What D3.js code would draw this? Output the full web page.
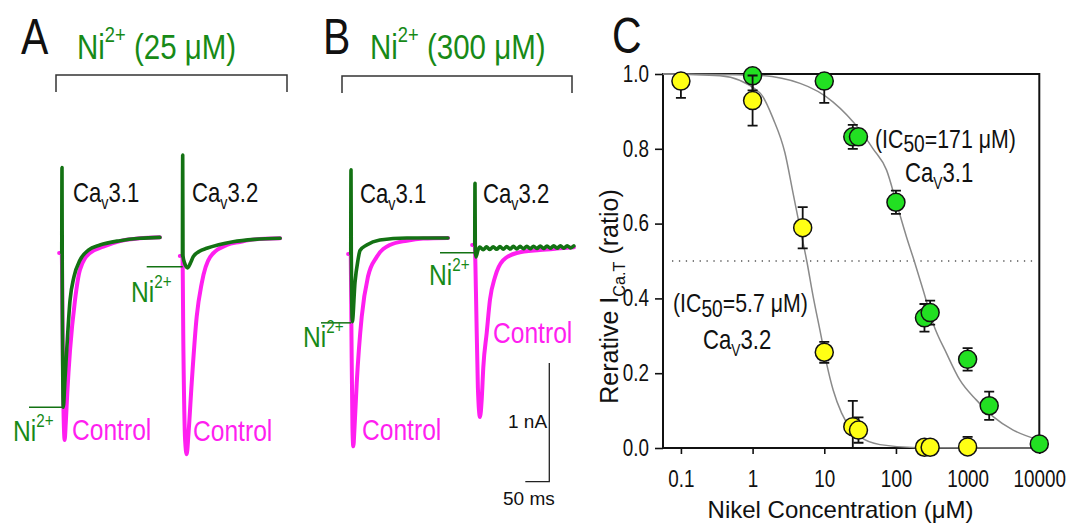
<!DOCTYPE html>
<html>
<head>
<meta charset="utf-8">
<script src="https://cdn.jsdelivr.net/npm/d3@7"></script>
<style>
  body { margin: 0; background: #fff; }
  svg { display: block; }
  .reg { font-family: "Liberation Sans", Arial, sans-serif; }
</style>
</head>
<body>
<svg id="fig" width="1069" height="524"></svg>
<script>
// DATA: current traces, [time (ms), current (nA)] from the step onset
const pinkA31 = [[-6,0],[-0.5,0],[1,-0.55],[3,-1.3],[5.5,-1.575],[8,-1.42],[11,-1.18],[16.7,-0.82],[27,-0.40],[37.5,-0.14],[58,0],[86,0.053],[121,0.1],[162,0.124],[204,0.132]];
const greenA31 = [[-0.5,0],[0,0.72],[0.6,-0.3],[2.7,-1.30],[6,-1.08],[9.8,-0.82],[16.7,-0.40],[25,-0.20],[37.5,-0.06],[55,0.025],[79,0.067],[121,0.104],[162,0.124],[204,0.132]];
const pinkA32 = [[-6,0],[-0.5,0],[1.5,-0.8],[5,-1.55],[8.3,-1.67],[12,-1.5],[18.75,-1.07],[29.2,-0.51],[39.6,-0.23],[57,-0.01],[92,0.093],[119,0.118],[150,0.14],[203,0.15]];
const greenA32 = [[-0.5,0],[0,0.85],[0.6,0],[4,-0.06],[10.4,-0.1],[16,-0.06],[22,-0.006],[35,0.04],[50,0.065],[75,0.095],[105,0.12],[150,0.14],[203,0.15]];
const pinkB31 = [[-6,0],[-0.5,0],[1,-0.7],[3,-1.45],[4.8,-1.62],[7.5,-1.45],[11.9,-1.09],[22.3,-0.53],[35.4,-0.19],[53.5,-0.025],[81,0.076],[116,0.112],[150,0.13],[202,0.135]];
const greenB31 = [[-0.5,0],[0,0.71],[0.6,0],[2.7,-0.57],[8.3,-0.24],[14.6,-0.05],[18.75,0.03],[32.7,0.076],[60,0.118],[116,0.135],[202,0.135]];
const pinkB32 = [[-6,0],[-0.5,0],[2,-0.4],[6,-1.2],[10.4,-1.45],[14,-1.3],[17.3,-1.03],[24.4,-0.74],[31.25,-0.46],[41.7,-0.27],[58.3,-0.13],[86.9,-0.067],[135,-0.042],[170,-0.03],[206,-0.02]];
const greenB32 = [[-0.5,0],[0,0.52],[0.6,-0.05],[2,-0.10],[6,-0.045],[10,-0.018],[17,-0.04],[24,-0.016],[31,-0.038],[38,-0.015],[45,-0.036],[52,-0.014],[59,-0.035],[66,-0.013],[73,-0.034],[80,-0.012],[87,-0.033],[94,-0.012],[101,-0.032],[108,-0.011],[115,-0.031],[122,-0.010],[129,-0.030],[136,-0.009],[143,-0.029],[150,-0.008],[157,-0.028],[164,-0.007],[171,-0.027],[178,-0.006],[185,-0.026],[192,-0.006],[199,-0.025],[206,-0.008]];
// peak current level under Ni2+ (nA), where the marker line sits
const niLevels = [-1.30, -0.09, -0.58, -0.065];
const scaleBar = { ms: 50, nA: 1 };

// DATA: dose-response (panel C)
const cav31Conc = [1, 10, 25, 30, 100, 250, 300, 1000, 2000, 10000];
const cav31Ratio = [0.995, 0.981, 0.832, 0.832, 0.657, 0.348, 0.362, 0.237, 0.113, 0.011];
const cav31Err = [0.039, 0.058, 0.032, 0.02, 0.031, 0.037, 0.032, 0.03, 0.038, 0];
const cav32Conc = [0.1, 1, 5, 10, 25, 30, 250, 300, 1000];
const cav32Ratio = [0.981, 0.929, 0.589, 0.256, 0.057, 0.048, 0.002, 0.002, 0.003];
const cav32Err = [0.045, 0.067, 0.055, 0.028, 0.069, 0.034, 0, 0, 0.027];
// fitted curves
const cav31Fit = [[0.056,1.0],[1,0.997],[4.6,0.975],[13.3,0.925],[31.4,0.85],[48,0.80],[74,0.743],[102,0.654],[140,0.565],[180,0.5],[240,0.422],[330,0.333],[508,0.253],[778,0.182],[1330,0.128],[2270,0.084],[4320,0.048],[10000,0.021]];
const cav32Fit = [[0.056,1.0],[0.35,0.995],[1.26,0.95],[1.94,0.88],[2.82,0.79],[3.68,0.68],[4.57,0.59],[5.7,0.5],[7.0,0.405],[8.7,0.315],[10.8,0.225],[13.3,0.155],[17.4,0.094],[31.4,0.031],[60,0.009],[200,0.001],[10000,0]];
const xTicks = [0.1, 1, 10, 100, 1000, 10000];
const yTicks = [0, 0.2, 0.4, 0.6, 0.8, 1.0];

// COLORS
const GREEN_TXT = "#178a17", GREEN_TR = "#137213", PINK = "#ff1ff0";
const FILL31 = "#22e022", FILL32 = "#ffff14";
const NARROW = 0.82;   // horizontal squeeze that mimics a condensed face

const svg = d3.select("#fig");

// helper: text with super/subscripts; narrow text is squeezed horizontally
function rich(x, y, parts, size, narrow, fill, anchor, parent, subShift) {
  const g = (parent || svg).append("g")
      .attr("transform", `translate(${x},${y})` + (narrow ? ` scale(${NARROW},1)` : ""));
  const t = g.append("text").attr("class", "reg")
      .attr("font-size", size).attr("fill", fill)
      .attr("text-anchor", anchor || "start");
  let shift = 0;
  parts.forEach(p => {
    const off = p.sup ? -0.48 * size : p.sub ? (subShift || 0.27) * size : 0;
    t.append("tspan").attr("dy", off - shift)
        .attr("font-size", (p.sup || p.sub) ? size * (p.scale || 0.62) : size)
        .text(p.t);
    shift = off;
  });
  return t;
}

/* ===================== PANELS A & B: traces ===================== */
const tScale = d3.scaleLinear().domain([0, 50]).range([0, 24]);       // ms -> px
const iScale = d3.scaleLinear().domain([0, 1]).range([0, -118.7]);    // nA -> px
const trace = d3.line().x(d => tScale(d[0])).y(d => iScale(d[1])).curve(d3.curveMonotoneX);

const traces = [
  { pink: pinkA31, green: greenA31, x0: 62, y0: 253, ni: niLevels[0], niFrom: -33 },
  { pink: pinkA32, green: greenA32, x0: 182.7, y0: 256, ni: niLevels[1], niFrom: -36 },
  { pink: pinkB31, green: greenB31, x0: 351, y0: 254, ni: niLevels[2], niFrom: -30 },
  { pink: pinkB32, green: greenB32, x0: 475, y0: 245, ni: niLevels[3], niFrom: -35 }
];

traces.forEach(tr => {
  const g = svg.append("g").attr("transform", `translate(${tr.x0},${tr.y0})`);
  g.append("path").datum(tr.pink).attr("d", trace)
      .attr("fill", "none").attr("stroke", PINK).attr("stroke-width", 4)
      .attr("stroke-linejoin", "round").attr("stroke-linecap", "round");
  g.append("path").datum(tr.green).attr("d", trace)
      .attr("fill", "none").attr("stroke", GREEN_TR).attr("stroke-width", 3.6)
      .attr("stroke-linejoin", "round").attr("stroke-linecap", "round");
  g.append("line").attr("x1", tr.niFrom).attr("x2", 0)
      .attr("y1", iScale(tr.ni)).attr("y2", iScale(tr.ni))
      .attr("stroke", GREEN_TR).attr("stroke-width", 1.5);
});

// scale bar
const sb = svg.append("g").attr("transform", "translate(549.3,481.7)");
sb.append("path")
    .attr("d", `M${-tScale(scaleBar.ms)},0H0V${iScale(scaleBar.nA)}`)
    .attr("fill", "none").attr("stroke", "#222").attr("stroke-width", 1.3);
rich(508, 428, [{t: "1 nA"}], 19, false, "#111");
rich(503, 505, [{t: "50 ms"}], 19, false, "#111");

// panel letters
[["A", 21, 54], ["B", 323, 54], ["C", 612, 53]].forEach(([t, x, y]) =>
  rich(x, y, [{t}], 50, true, "#111"));

// headers + brackets
rich(77, 59, [{t: "Ni"}, {t: "2+", sup: true}, {t: " (25 μM)"}], 36, true, GREEN_TXT);
rich(370, 59, [{t: "Ni"}, {t: "2+", sup: true}, {t: " (300 μM)"}], 36, true, GREEN_TXT);
svg.append("path").attr("d", "M56,92V75H287V92").attr("fill", "none").attr("stroke", "#333").attr("stroke-width", 1.5);
svg.append("path").attr("d", "M342,93V76H572V93").attr("fill", "none").attr("stroke", "#333").attr("stroke-width", 1.5);

// trace labels
[[73, 202, "3.1"], [192, 202, "3.2"], [360, 203, "3.1"], [483, 203, "3.2"]].forEach(([x, y, n]) =>
  rich(x, y, [{t: "Ca"}, {t: "v", sub: true, scale: 0.65}, {t: n}], 27, true, "#111"));
[[72, 440], [193, 441], [362, 440], [493, 343]].forEach(([x, y]) =>
  rich(x, y, [{t: "Control"}], 30, true, PINK));
[[13, 441], [131, 302], [303, 347], [429, 285]].forEach(([x, y]) =>
  rich(x, y, [{t: "Ni"}, {t: "2+", sup: true}], 30, true, GREEN_TXT));

/* ===================== PANEL C: dose-response ===================== */
const x = d3.scaleLog().domain([Math.pow(10, -1.25), 10000]).range([663, 1039.3]);
const y = d3.scaleLinear().domain([0, 1]).range([448, 74]);

svg.append("defs").append("clipPath").attr("id", "plotClip")
  .append("rect").attr("x", 663).attr("y", 74).attr("width", 1039.3 - 663).attr("height", 448 - 74);

// axes
const yAxis = svg.append("g").attr("transform", "translate(663,0)")
    .call(d3.axisLeft(y).tickValues(yTicks).tickFormat(d3.format(".1f")).tickSize(8).tickPadding(6));
const xAxis = svg.append("g").attr("transform", "translate(0,448)")
    .call(d3.axisBottom(x).tickValues(xTicks).tickFormat(d => String(d)).tickSize(6).tickPadding(17));
[yAxis, xAxis].forEach(a => {
  a.selectAll(".domain").remove();
  a.selectAll("line").attr("stroke", "#111").attr("stroke-width", 1.6);
  a.selectAll("text").each(function () {
    const t = d3.select(this);
    const tx = +t.attr("x") || 0, ty = +t.attr("y") || 0;
    t.attr("x", 0).attr("y", 0)
     .attr("transform", `translate(${tx},${ty}) scale(${NARROW},1)`)
     .attr("class", "reg").attr("font-size", 23).attr("fill", "#111");
  });
  a.attr("font-family", null);
});

// frame
svg.append("rect").attr("x", 663).attr("y", 74).attr("width", 1039.3 - 663).attr("height", 448 - 74)
    .attr("fill", "none").attr("stroke", "#111").attr("stroke-width", 2);

// 50% reference line
svg.append("line").attr("x1", 672).attr("x2", 1035).attr("y1", y(0.5)).attr("y2", y(0.5))
    .attr("stroke", "#555").attr("stroke-width", 1.3).attr("stroke-dasharray", "1.3,5.6");

// fitted curves
const fitLine = d3.line().x(d => x(d[0])).y(d => y(d[1])).curve(d3.curveMonotoneX);
[cav31Fit, cav32Fit].forEach(f =>
  svg.append("path").datum(f).attr("d", fitLine)
      .attr("fill", "none").attr("stroke", "#8a8a8a").attr("stroke-width", 1.5));

// data points with error bars
function series(conc, ratio, err, fill) {
  const pts = conc.map((c, i) => ({ c, r: ratio[i], e: err[i] }));
  const bars = svg.append("g").attr("clip-path", "url(#plotClip)");
  pts.filter(d => d.e > 0).forEach(d => {
    const cx = x(d.c);
    bars.append("path")
        .attr("d", `M${cx},${y(d.r + d.e)}V${y(d.r - d.e)}` +
                   `M${cx - 5},${y(d.r + d.e)}H${cx + 5}M${cx - 5},${y(d.r - d.e)}H${cx + 5}`)
        .attr("stroke", "#111").attr("stroke-width", 1.8).attr("fill", "none");
  });
  svg.append("g").selectAll("circle").data(pts).join("circle")
      .attr("cx", d => x(d.c)).attr("cy", d => y(d.r)).attr("r", 9)
      .attr("fill", fill).attr("stroke", "#111").attr("stroke-width", 1.5);
}
series(cav31Conc, cav31Ratio, cav31Err, FILL31);
series(cav32Conc, cav32Ratio, cav32Err, FILL32);

// annotations
rich(875, 148, [{t: "(IC"}, {t: "50", sub: true, scale: 0.9}, {t: "=171 μM)"}], 26, true, "#111", null, null, 0.15);
rich(905, 182, [{t: "Ca"}, {t: "V", sub: true, scale: 0.62}, {t: "3.1"}], 27, true, "#111");
rich(673, 312, [{t: "(IC"}, {t: "50", sub: true, scale: 0.9}, {t: "=5.7 μM)"}], 26, true, "#111", null, null, 0.2);
rich(703, 349, [{t: "Ca"}, {t: "V", sub: true, scale: 0.62}, {t: "3.2"}], 27, true, "#111");

// axis titles
rich(840.5, 518, [{t: "Nikel Concentration (μM)"}], 24, false, "#111", "middle");
const yl = svg.append("g").attr("transform", "translate(618,296.5) rotate(-90)");
rich(0, 0, [{t: "Rerative I"}, {t: "Ca.T", sub: true, scale: 0.65}, {t: " (ratio)"}], 25, false, "#111", "middle", yl);
</script>
</body>
</html>
